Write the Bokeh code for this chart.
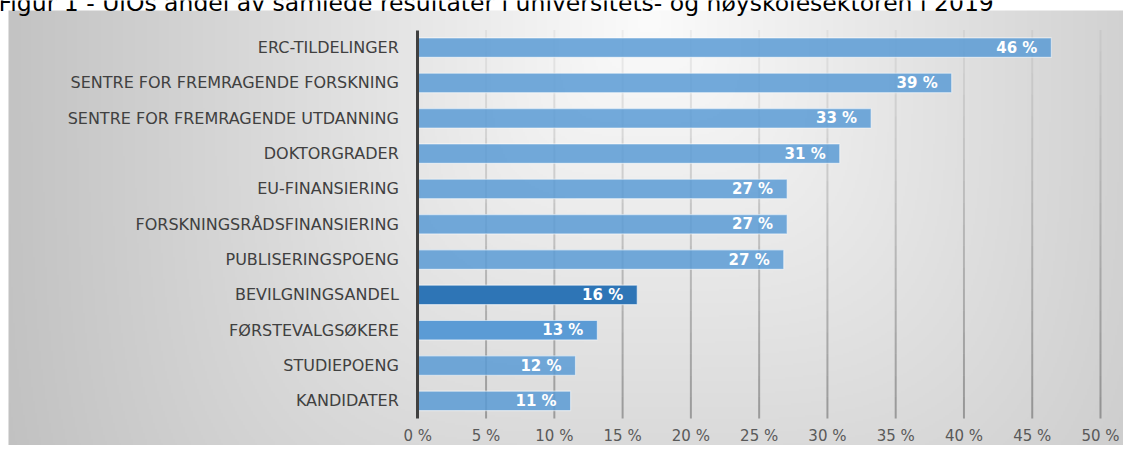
import numpy as np
from bokeh.plotting import figure
from bokeh.models import Range1d, LinearAxis, FixedTicker, Label
from bokeh.core.properties import value
from bokeh.embed import file_html
from bokeh.resources import INLINE

# ---------------- data ----------------
title_text = "Figur 1 - UiOs andel av samlede resultater i universitets- og høyskolesektoren i 2019"
categories = [
    "ERC-TILDELINGER",
    "SENTRE FOR FREMRAGENDE FORSKNING",
    "SENTRE FOR FREMRAGENDE UTDANNING",
    "DOKTORGRADER",
    "EU-FINANSIERING",
    "FORSKNINGSRÅDSFINANSIERING",
    "PUBLISERINGSPOENG",
    "BEVILGNINGSANDEL",
    "FØRSTEVALGSØKERE",
    "STUDIEPOENG",
    "KANDIDATER",
]
shares = [46.4, 39.1, 33.2, 30.9, 27.05, 27.05, 26.8, 16.07, 13.15, 11.55, 11.19]
tick_values = [0, 5, 10, 15, 20, 25, 30, 35, 40, 45, 50]
tick_labels = ["0 %", "5 %", "10 %", "15 %", "20 %", "25 %", "30 %", "35 %", "40 %", "45 %", "50 %"]

# ---------------- layout / style ----------------
W, H = 1123, 445
PX0, PXU = 417.3, 13.654     # canvas x of 0 %, pixels per percent
PYU = 35.32                  # pixels per category band
PY0 = 29.5 + PYU / 2         # canvas y of first category centre
n = len(categories)
ypos = [-i for i in range(n)]
value_labels = [f"{round(v)} %" for v in shares]

highlight = {"BEVILGNINGSANDEL": ("#2E75B6", 1.0), "FØRSTEVALGSØKERE": ("#5B9BD5", 1.0)}
bar_colors = [highlight.get(c, ("#5B9BD5", 0.85))[0] for c in categories]
bar_alphas = [highlight.get(c, ("#5B9BD5", 0.85))[1] for c in categories]

x_range = Range1d(-PX0 / PXU, (W - PX0) / PXU)
y_range = Range1d(-(H - PY0) / PYU, PY0 / PYU)

p = figure(width=W, height=H, x_range=x_range, y_range=y_range,
           x_axis_type=None, y_axis_type=None, title=None,
           toolbar_location=None, output_backend="svg", min_border=0,
           background_fill_color="white", border_fill_color="white",
           outline_line_color=None)

# gradient chart-area background (style only), starts at canvas (8, 10)
BX, BY = 8, 10
gx = np.arange(BX, W, 2) + 1.0
gy = np.arange(BY, H, 2) + 1.0
XX, YY = np.meshgrid(gx, gy)
d = ((np.abs(XX - 650) / 642) ** 4 + (np.abs(YY - 20) / 724) ** 4) ** 0.25
v = np.clip(251 - 56 * d, 0, 255).astype(np.uint8)
img = np.zeros(v.shape, dtype=np.uint32)
view = img.view(dtype=np.uint8).reshape(v.shape + (4,))
view[..., 0] = v
view[..., 1] = v
view[..., 2] = v
view[..., 3] = 255
img = img[::-1]
p.image_rgba(image=[img], x=x_range.start + BX / PXU, y=y_range.start,
             dw=(W - BX) / PXU, dh=(H - BY) / PYU)

# vertical gridlines with a soft vertical fade
nseg = 18
top, bot = 0.5, -(n - 1) - 0.5
step = (top - bot) / nseg
gx0, gy0, gx1, gy1, galpha = [], [], [], [], []
for t in tick_values[1:]:
    for k in range(nseg):
        gx0.append(t); gx1.append(t)
        gy0.append(top - k * step); gy1.append(top - (k + 1) * step)
        galpha.append(0.04 + 0.26 * (k + 0.5) / nseg)
p.segment(x0=gx0, y0=gy0, x1=gx1, y1=gy1, line_color="black",
          line_alpha=galpha, line_width=2)

# bars
p.hbar(y=ypos, left=0, right=shares, height=0.55,
       fill_color=bar_colors, fill_alpha=bar_alphas,
       line_color="white", line_alpha=0.5, line_width=1.2)

# value labels
p.text(x=shares, y=ypos, text=value_labels, x_offset=-14,
       text_align="right", text_baseline="middle", text_color="white",
       text_font=value("DejaVu Sans"), text_font_style="bold",
       text_font_size="15px")

# category axis at 0 %
yaxis = LinearAxis(fixed_location=0,
                   ticker=FixedTicker(ticks=ypos),
                   major_label_overrides={y: c for y, c in zip(ypos, categories)},
                   bounds=(bot, top),
                   axis_line_color="#404040", axis_line_width=3,
                   major_tick_line_color=None, minor_tick_line_color=None,
                   major_tick_out=0, major_tick_in=0,
                   major_label_standoff=19,
                   major_label_text_font="DejaVu Sans",
                   major_label_text_font_size="16px",
                   major_label_text_color="#404040")
p.add_layout(yaxis, "left")

# percent axis under the bars
xaxis = LinearAxis(fixed_location=bot,
                   ticker=FixedTicker(ticks=tick_values),
                   major_label_overrides=dict(zip(tick_values, tick_labels)),
                   axis_line_color=None,
                   major_tick_line_color=None, minor_tick_line_color=None,
                   major_tick_out=0, major_tick_in=0,
                   major_label_standoff=8,
                   major_label_text_font="DejaVu Sans",
                   major_label_text_font_size="15px",
                   major_label_text_color="#595959")
p.add_layout(xaxis, "below")

# title (cut off at the top, as in the reference)
p.add_layout(Label(x=-2, y=H - 2, x_units="screen", y_units="screen",
                   text=title_text, text_font="DejaVu Sans",
                   text_font_size="23.5px", text_baseline="alphabetic",
                   text_color="black"))

open("out.html", "w").write(file_html(p, INLINE))
